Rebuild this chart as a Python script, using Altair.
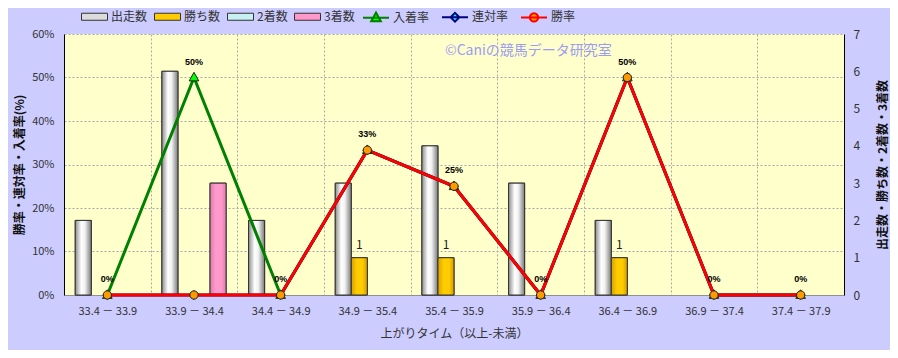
import altair as alt
import pandas as pd

cats = ["33.4 － 33.9", "33.9 － 34.4", "34.4 － 34.9", "34.9 － 35.4", "35.4 － 35.9",
        "35.9 － 36.4", "36.4 － 36.9", "36.9 － 37.4", "37.4 － 37.9"]
bar_series = ["出走数", "勝ち数", "2着数", "3着数"]
starts = [2, 6, 2, 3, 4, 3, 2, 0, 0]
wins = [0, 0, 0, 1, 1, 0, 1, 0, 0]
seconds = [0, 0, 0, 0, 0, 0, 0, 0, 0]
thirds = [0, 3, 0, 0, 0, 0, 0, 0, 0]

line_series = ["入着率", "連対率", "勝率"]
place_rate = [0, 0.5, 0, 0.333, 0.25, 0, 0.5, 0, 0]
quinella_rate = [0, 0, 0, 0.333, 0.25, 0, 0.5, 0, 0]
win_rate = [0, 0, 0, 0.333, 0.25, 0, 0.5, 0, 0]

bar_colors = ["#DCDCDC", "#FFCC00", "#C8F0F0", "#FF99CC"]
line_colors = ["#008000", "#000080", "#FF0000"]
marker_colors = ["#00FF00", "#00FFFF", "#FF9900"]
marker_paths = ["M0,-0.40L0.37,0.26L-0.37,0.26Z",
                "M0,-0.34L0.34,0L0,0.34L-0.34,0Z",
                "M-0.32,0A0.32,0.32,0,1,0,0.32,0A0.32,0.32,0,1,0,-0.32,0Z"]
legend_paths = ["M-1,0H1" + p for p in marker_paths]
watermark = "©Caniの競馬データ研究室"

FONT = "Noto Sans CJK JP"
TXT = "#333333"

rows = []
for s, vals in zip(bar_series, [starts, wins, seconds, thirds]):
    for c, v in zip(cats, vals):
        if v > 0:
            rows.append({"cat": c, "series": s, "count": v})
bars_df = pd.DataFrame(rows)

lrows = []
for s, vals in zip(line_series, [place_rate, quinella_rate, win_rate]):
    for c, v in zip(cats, vals):
        lrows.append({"cat": c, "series": s, "val": v})
lines_df = pd.DataFrame(lrows)

X = alt.X("cat:N", sort=cats,
          scale=alt.Scale(domain=cats, paddingInner=0, paddingOuter=0),
          axis=alt.Axis(title="上がりタイム（以上-未満）", labelAngle=0, ticks=False,
                        tickBand="extent", grid=True, gridDash=[2, 2], gridColor="#A8A8A8",
                        domainColor="#909090", labelPadding=10, titlePadding=12,
                        labelFontSize=11, titleFontSize=12, titleFontWeight="normal",
                        labelFont=FONT, titleFont=FONT, labelColor=TXT, titleColor=TXT))
XO = alt.XOffset("series:N",
                 scale=alt.Scale(domain=bar_series, paddingInner=0, paddingOuter=0.7))
YC = alt.Y("count:Q", scale=alt.Scale(domain=[0, 7]),
           axis=alt.Axis(orient="right", values=list(range(8)), grid=False, ticks=False,
                         title="出走数・勝ち数・2着数・3着数", titleAngle=270,
                         labelPadding=9, titlePadding=30, labelFontSize=12, titleFontSize=12,
                         titleFontWeight="bold", labelFont=FONT, titleFont=FONT,
                         labelColor=TXT, titleColor="#111111", domainColor="#000000"))
YR = alt.Y("val:Q", scale=alt.Scale(domain=[0, 0.6]),
           axis=alt.Axis(orient="left", values=[0, 0.1, 0.2, 0.3, 0.4, 0.5, 0.6], format=".0%",
                         grid=True, gridDash=[2, 2], gridColor="#A8A8A8", ticks=False,
                         title="勝率・連対率・入着率(%)", labelPadding=10, titlePadding=5,
                         labelFontSize=11, titleFontSize=12, titleFontWeight="bold",
                         labelFont=FONT, titleFont=FONT, labelColor=TXT, titleColor="#111111",
                         domainColor="#000000"))

legend_common = dict(orient="none", direction="horizontal", title=None, symbolSize=676,
                     labelOffset=3, padding=0, labelFontSize=12,
                     labelFont=FONT, labelColor=TXT, legendY=-31)

base_bars = alt.Chart(bars_df).mark_bar(stroke="#333333", strokeWidth=1).encode(
    x=X, xOffset=XO, y=YC,
    fill=alt.Fill("series:N", scale=alt.Scale(domain=bar_series, range=bar_colors),
                  legend=alt.Legend(legendX=17, symbolType="M-1,-0.27H1V0.27H-1Z",
                                    symbolStrokeColor="#333333", symbolStrokeWidth=1,
                                    columnPadding=4, **legend_common)))

grads = {
    "出走数": [("#8C8C8C", 0), ("#FFFFFF", 0.38), ("#F2F2F2", 0.6), ("#7A7A7A", 1)],
    "勝ち数": [("#D9A000", 0), ("#FFCC00", 0.35), ("#FFCC00", 0.7), ("#D49A00", 1)],
    "3着数": [("#E07AAE", 0), ("#FF9ACC", 0.35), ("#FF99CC", 0.7), ("#E07AAE", 1)],
}
overlays = []
for s, stops in grads.items():
    overlays.append(
        alt.Chart(bars_df).transform_filter(alt.datum.series == s).mark_bar(
            fill=alt.Gradient(gradient="linear", x1=0, x2=1, y1=0, y2=0,
                              stops=[alt.GradientStop(color=c, offset=o) for c, o in stops]),
            stroke="#333333", strokeWidth=1).encode(x=X, xOffset=XO, y=YC))

count_labels = alt.Chart(bars_df).transform_filter(alt.datum.series == "勝ち数").mark_text(
    dy=-13, fontSize=12, font=FONT, color="#222222").encode(
    x=X, xOffset=XO, y=YC, text="count:Q")

bars_layer = alt.layer(base_bars, *overlays, count_labels)

series_layers = []
for s, lc in zip(line_series, line_colors):
    series_layers.append(
        alt.Chart(lines_df).transform_filter(alt.datum.series == s).mark_line(
            strokeWidth=3, color=lc).encode(x=X, y=YR))
for s, mc, mp in zip(line_series, marker_colors, marker_paths):
    series_layers.append(
        alt.Chart(lines_df).transform_filter(alt.datum.series == s).mark_point(
            filled=True, fill=mc, shape=mp, size=676, stroke="#222222", strokeWidth=1,
            opacity=1).encode(x=X, y=YR))

# legend carrier (draws nothing): line colour + marker colour + marker shape per series
leg = alt.Legend(legendX=298, symbolStrokeWidth=2, columnPadding=8, **legend_common)
legend_layer = alt.Chart(lines_df).transform_filter("false").mark_point(
    filled=True, opacity=1).encode(
    x=X, y=YR,
    color=alt.Color("series:N", scale=alt.Scale(domain=line_series, range=marker_colors),
                    legend=leg),
    stroke=alt.Stroke("series:N", scale=alt.Scale(domain=line_series, range=line_colors),
                      legend=leg),
    shape=alt.Shape("series:N", scale=alt.Scale(domain=line_series, range=legend_paths),
                    legend=leg))

rate_labels = alt.Chart(lines_df).transform_filter(alt.datum.series == "入着率").mark_text(
    dy=-16, fontSize=9, fontWeight="bold", font="Liberation Sans", color="#000000").encode(
    x=X, y=YR, text=alt.Text("val:Q", format=".0%"))

wm = alt.Chart(pd.DataFrame({"t": [watermark]})).mark_text(
    align="left", baseline="middle", fontSize=14, font=FONT, color="#9C9CF0").encode(
    x=alt.value(381), y=alt.value(17), text="t:N")

rate_layer = alt.layer(*series_layers, legend_layer, rate_labels, wm)

chart = alt.layer(bars_layer, rate_layer).resolve_scale(y="independent").properties(
    width=780, height=261,
    padding={"left": 56, "top": 26, "right": 46, "bottom": 55},
    autosize=alt.AutoSizeParams(type="none"),
    background="#CCCCFF",
).configure_view(fill="#FFFFCC", stroke=None)

chart.save("out.html", embed_options={"renderer": "svg", "actions": False})
